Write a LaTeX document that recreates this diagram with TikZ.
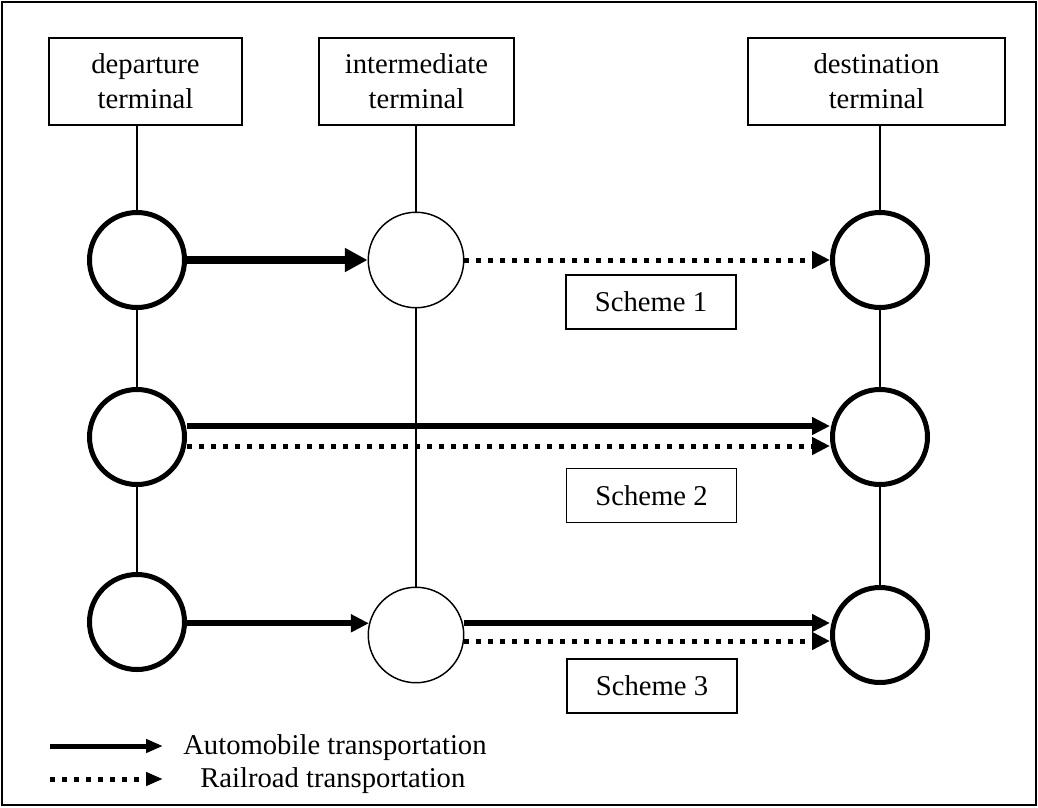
\documentclass[tikz,border=0pt]{standalone}
\usepackage{fontspec}
\setmainfont{Liberation Serif}
\usetikzlibrary{arrows.meta}
\begin{document}
\begin{tikzpicture}[x=0.75pt,y=-0.75pt,
  font=\fontsize{21.5pt}{26.3pt}\selectfont,
  termbox/.style={draw,line width=1.1pt,minimum height=65.25pt,inner sep=0pt,align=center},
  schemebox/.style={draw,line width=1.1pt,minimum width=127.5pt,minimum height=40.5pt,inner sep=0pt},
  thickring/.style={circle,draw,line width=3.75pt,minimum size=71.25pt,inner sep=0pt},
  thinring/.style={circle,draw,line width=1.1pt,minimum size=71.6pt,inner sep=0pt},
  link/.style={line width=1.1pt},
  bigcar/.style={line width=6pt,-{Triangle[length=17pt,width=17pt]}},
  carline/.style={line width=4.6pt,-{Triangle[length=13.5pt,width=12.75pt]}},
  railline/.style={line width=3.75pt,dash pattern=on 3.75pt off 5.25pt,-{Triangle[length=13.5pt,width=12.75pt]}},
  legcar/.style={line width=3.75pt,-{Triangle[length=12.75pt,width=9.75pt]}},
  legrail/.style={line width=3.75pt,dash pattern=on 4pt off 5pt,-{Triangle[length=12.75pt,width=9.75pt]}},
  legtext/.style={anchor=base west,inner sep=0pt}
]
\useasboundingbox (0,0) rectangle (1038,807);
\draw[line width=1.3pt] (2,2) rectangle (1036,805);

% terminal boxes
\node[termbox,minimum width=144.75pt] (B1) at (145.5,81.5) {departure\\terminal};
\node[termbox,minimum width=146.25pt] (B2) at (416.5,81.5) {intermediate\\terminal};
\node[termbox,minimum width=192.75pt] (B3) at (876.5,81.5) {destination\\terminal};

% circles
\node[thickring] (D1) at (137,260) {};
\node[thinring]  (I1) at (416,260) {};
\node[thickring] (T1) at (880,260) {};
\node[thickring] (D2) at (137,437) {};
\node[thickring] (T2) at (880,437) {};
\node[thickring] (D3) at (137,622) {};
\node[thinring]  (I3) at (416,635) {};
\node[thickring] (T3) at (880,635) {};

% scheme labels
\node[schemebox] (S1) at (651,302) {Scheme 1};
\node[schemebox] (S2) at (651.5,495.5) {Scheme 2};
\node[schemebox] (S3) at (652,686) {Scheme 3};

% vertical links
\draw[link] (D1.north |- B1.south) -- (D1.north);
\draw[link] (D1) -- (D2);
\draw[link] (D2) -- (D3);
\draw[link] (I1.north |- B2.south) -- (I1.north);
\draw[link] (I1) -- (I3);
\draw[link] (T1.north |- B3.south) -- (T1.north);
\draw[link] (T1) -- (T2);
\draw[link] (T2) -- (T3);

% scheme 1
\draw[bigcar] (D1.east) -- (I1.west);
\draw[railline] (I1.east) -- (T1.west);
% scheme 2
\draw[carline] ([yshift=8.25pt]D2.east) -- ([yshift=8.25pt]T2.west);
\draw[railline] ([yshift=-6.75pt]D2.east) -- ([yshift=-6.75pt]T2.west);
% scheme 3
\draw[carline] (D3.east |- I3.166) -- (I3.166);
\draw[carline] ([yshift=9pt]I3.east) -- ([yshift=9pt]T3.west);
\draw[railline] ([yshift=-4.5pt]I3.east) -- ([yshift=-4.5pt]T3.west);

% legend
\coordinate (ca) at (50,746);
\coordinate (cb) at (163,746);
\coordinate (ra) at (50,779);
\coordinate (rb) at (163,779);
\draw[legcar] (ca) -- (cb);
\draw[legrail] (ra) -- (rb);
\node[legtext] (autotext) at (183,754) {Automobile transportation};
\node[legtext] (railtext) at (200,787) {Railroad transportation};
\end{tikzpicture}
\end{document}
